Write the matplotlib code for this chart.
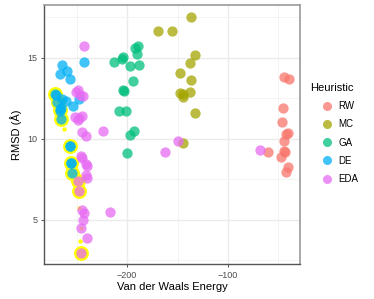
import numpy as np
import matplotlib.pyplot as plt
from matplotlib.lines import Line2D
from matplotlib.ticker import MultipleLocator

plt.rcParams['font.family'] = ['Liberation Sans', 'DejaVu Sans']

# data
rw_x = [-45, -40, -46, -47, -41, -43, -45, -60, -45, -44, -48, -41, -43]
rw_y = [13.8, 13.7, 11.9, 11.05, 10.35, 10.3, 9.85, 9.15, 9.25, 9.15, 8.85, 8.27, 7.96]

mc_x = [-137, -169, -155, -133, -138, -148, -137, -148, -145, -138, -145, -133, -145]
mc_y = [17.5, 16.67, 16.63, 15.17, 14.69, 14.07, 13.64, 12.84, 12.59, 12.88, 12.76, 11.59, 9.75]

ga_x = [-189, -192, -190, -204, -205, -213, -197, -188, -194, -204, -203, -208, -201, -193, -197, -200]
ga_y = [15.74, 15.6, 15.23, 15.02, 14.9, 14.72, 14.51, 14.57, 13.56, 13.0, 12.96, 11.71, 11.71, 10.49, 10.23, 9.14]

de_x = [-243, -264, -259, -266, -256, -271, -264, -269, -260, -248, -265, -253, -266,
        -265, -256, -256, -255, -255, -254.5, -270, -266]
de_y = [14.75, 14.53, 14.2, 14.01, 13.7, 12.76, 12.43, 12.28, 12.35, 12.47, 11.88, 12.0, 11.73,
        11.2, 9.55, 9.55, 8.52, 8.52, 7.86, 12.7, 11.85]

eda_x = [-243, -249, -247, -251, -244, -251.5, -247.5, -245, -249, -244.6, -240.6, -224,
         -68, -162, -150, -246, -245, -241, -240, -239.6, -241, -244.6, -243, -244, -246,
         -239.6, -217, -249, -247.5, -246]
eda_y = [15.74, 13.0, 12.7, 12.9, 12.64, 11.36, 11.28, 11.4, 11.15, 10.43, 10.19, 10.5,
         9.3, 9.2, 9.86, 8.95, 8.79, 8.46, 8.31, 7.57, 7.76, 5.6, 5.41, 4.98, 4.49,
         3.89, 5.45, 7.41, 6.79, 2.96]

best_x = [-271, -268, -266, -265, -256, -255, -254.5, -249, -247.5, -246]
best_y = [12.76, 12.25, 11.8, 11.2, 9.55, 8.52, 7.86, 7.41, 6.79, 2.96]

small_x = [-262.4, -247.2, -246.5, -246]
small_y = [10.58, 5.74, 3.69, 4.49]

groups = ['RW', 'MC', 'GA', 'DE', 'EDA']
colors = ['#F8766D', '#A3A500', '#00BF7D', '#00B0F6', '#E76BF3']
xs = [rw_x, mc_x, ga_x, de_x, eda_x]
ys = [rw_y, mc_y, ga_y, de_y, eda_y]

fig = plt.figure(figsize=(3.74, 2.99), dpi=100)
ax = fig.add_axes([44 / 374, 1 - 264.3 / 299, 256 / 374, 259 / 299])

ax.scatter(best_x, best_y, s=115, color='#FFFF00', lw=0, zorder=2)
ax.scatter(small_x, small_y, s=10, color='#FFFF00', lw=0, zorder=2)
for gx, gy, c in zip(xs, ys, colors):
    ax.scatter(gx, gy, s=55, color=c, alpha=0.75, lw=0, zorder=3)

ax.set_xlim(-282.2, -28.7)
ax.set_ylim(2.25, 18.23)
ax.xaxis.set_major_locator(MultipleLocator(100))
ax.xaxis.set_minor_locator(MultipleLocator(50))
ax.yaxis.set_major_locator(MultipleLocator(5))
ax.yaxis.set_minor_locator(MultipleLocator(2.5))
ax.grid(which='major', color='#EBEBEB', lw=1.0, zorder=0)
ax.grid(which='minor', color='#F3F3F3', lw=0.6, zorder=0)
ax.set_axisbelow(True)
ax.tick_params(which='major', length=2.5, width=0.6, color='#333333',
               labelsize=6.5, labelcolor='#4D4D4D', pad=2)
ax.tick_params(which='minor', length=0)
for s in ['left', 'bottom']:
    ax.spines[s].set_color('#555555')
    ax.spines[s].set_linewidth(1.0)
for s in ['top', 'right']:
    ax.spines[s].set_color('#999999')
    ax.spines[s].set_linewidth(1.2)

ax.set_xlabel('Van der Waals Energy', fontsize=8, labelpad=2)
ax.set_ylabel('RMSD (Å)', fontsize=8, labelpad=4)

# legend: title placed by hand, keys below it
fig.text(310 / 374, 1 - 88 / 299, 'Heuristic', fontsize=8, va='center', ha='left')
handles = [Line2D([], [], marker='o', ls='', ms=6.5, color=c, alpha=0.75, mew=0)
           for c in colors]
leg = fig.legend(handles, groups, loc='upper left', bbox_to_anchor=(320 / 374, 1 - 101 / 299),
                 frameon=False, fontsize=7, borderpad=0, borderaxespad=0,
                 labelspacing=0.85, handletextpad=0.4, handlelength=1.5)

fig.savefig('out.png', dpi=100)
